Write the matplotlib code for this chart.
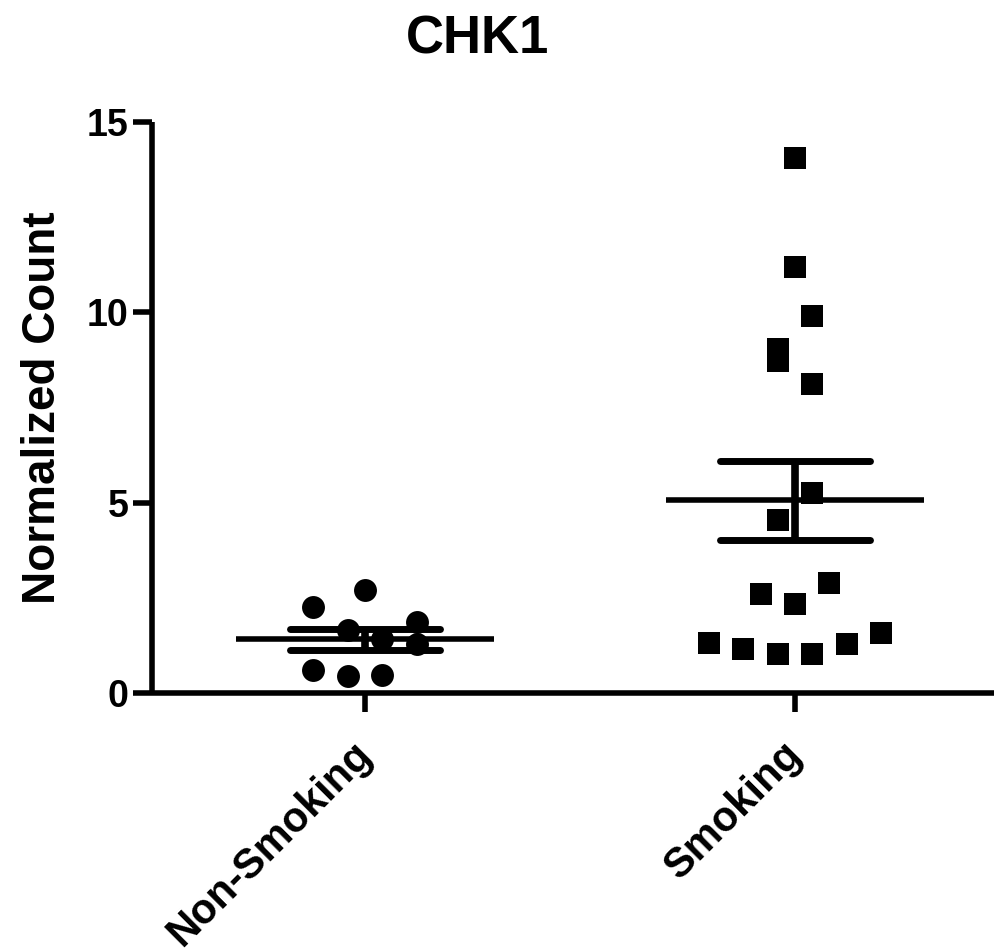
import numpy as np
import matplotlib

matplotlib.use("Agg")
import matplotlib.pyplot as plt
from matplotlib.transforms import ScaledTranslation

plt.rcParams["font.family"] = ["Liberation Sans", "DejaVu Sans"]
plt.rcParams["font.weight"] = "bold"

# values
groups = ["Non-Smoking", "Smoking"]
non_smoking = [2.25, 2.70, 1.86, 1.65, 1.42, 1.28, 0.60, 0.45, 0.47]
ns_jitter = [-0.12, 0.0, 0.12, -0.04, 0.04, 0.12, -0.12, -0.04, 0.04]
smoking = [14.06, 11.2, 9.9, 9.04, 8.73, 8.12, 5.26, 4.55, 2.59, 2.33, 2.88,
           1.31, 1.15, 1.02, 1.02, 1.28, 1.57]
sm_jitter = [0.0, 0.0, 0.04, -0.04, -0.04, 0.04, 0.04, -0.04, -0.08, 0.0, 0.08,
             -0.2, -0.12, -0.04, 0.04, 0.12, 0.2]
y_ticks = [0, 5, 10, 15]

fig = plt.figure(figsize=(9.95, 9.51), dpi=100)
ax = fig.add_axes([152 / 995, 1 - 693 / 951, 1 - 152 / 995, (693 - 122) / 951])

data = [(non_smoking, ns_jitter, "o"), (smoking, sm_jitter, "s")]
for i, (vals, jit, mk) in enumerate(data):
    vals = np.asarray(vals)
    xs = i + np.asarray(jit)
    ax.plot(xs, vals, linestyle="none", marker=mk, markersize=16.5,
            color="black", markeredgewidth=0, clip_on=False, zorder=3)
    # mean with SEM bars
    mean = vals.mean()
    sem = vals.std(ddof=1) / np.sqrt(len(vals))
    ax.plot([i - 0.3, i + 0.3], [mean, mean], color="black", lw=4,
            solid_capstyle="butt", zorder=4)
    ax.plot([i - 0.175, i + 0.175], [mean + sem] * 2, color="black", lw=5,
            solid_capstyle="round", zorder=4)
    ax.plot([i - 0.175, i + 0.175], [mean - sem] * 2, color="black", lw=5,
            solid_capstyle="round", zorder=4)
    ax.plot([i, i], [mean - sem, mean + sem], color="black", lw=5.5,
            solid_capstyle="butt", zorder=4)

ax.set_xlim(-0.495, 1.465)
ax.set_ylim(0, 15)
ax.set_yticks(y_ticks)
ax.set_xticks([0, 1])
ax.set_xticklabels([])

# slanted group labels, placed by hand so they can sit a bit left of the ticks
shift = ScaledTranslation(-0.13, -30 / 72, fig.dpi_scale_trans)
for i, name in enumerate(groups):
    ax.text(i, 0, name, transform=ax.get_xaxis_transform() + shift,
            rotation=45, ha="right", va="top", rotation_mode="anchor",
            fontsize=30, fontweight="bold")

for side in ["top", "right"]:
    ax.spines[side].set_visible(False)
for side in ["left", "bottom"]:
    ax.spines[side].set_linewidth(4)
    ax.spines[side].set_capstyle("butt")

ax.tick_params(axis="both", direction="out", length=14, width=4, color="black")
ax.tick_params(axis="y", pad=3, labelsize=27)
for lbl in ax.get_yticklabels():
    lbl.set_fontweight("bold")

ax.set_ylabel("Normalized Count", fontsize=33, fontweight="bold")
ax.yaxis.set_label_coords(-0.103, 0.5)

fig.text(478 / 995, 1 - 53 / 951, "CHK1", ha="center", va="baseline",
         fontsize=38, fontweight="bold")

fig.savefig("out.png", dpi=100)
